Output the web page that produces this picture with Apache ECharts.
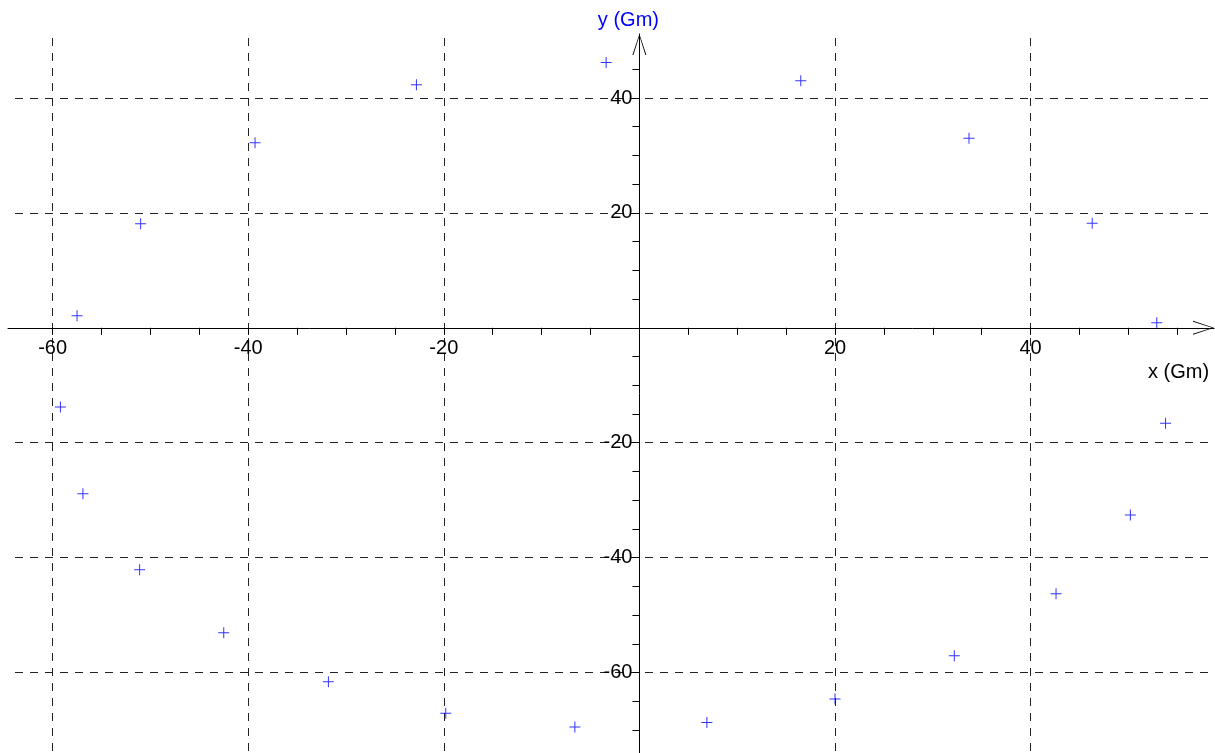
<!DOCTYPE html>
<html>
<head>
<meta charset="utf-8">
<script src="https://cdn.jsdelivr.net/npm/echarts@6/dist/echarts.min.js"></script>
<style>
  html, body { margin: 0; padding: 0; background: #ffffff; }
  #chart { width: 1215px; height: 753px; }
</style>
</head>
<body>
<div id="chart"></div>
<script>
// Orbit samples, positions in Gm
const xValues = [-57.5, -51.0, -39.3, -22.8, -3.4, 16.5, 33.7, 46.3, 52.9, 53.8, 50.2, 42.6,
                 32.2, 20.0, 6.9, -6.6, -19.8, -31.8, -42.5, -51.1, -56.9, -59.2];
const yValues = [2.1, 18.1, 32.2, 42.3, 46.2, 43.0, 33.0, 18.2, 0.9, -16.6, -32.6, -46.3,
                 -57.1, -64.6, -68.7, -69.5, -67.1, -61.6, -53.1, -42.1, -28.9, -13.8];

// Labelled tick values on each axis
const xLabelValues = [-60, -40, -20, 20, 40];
const yLabelValues = [-60, -40, -20, 20, 40];

const xName = 'x (Gm)';
const yName = 'y (Gm)';

// ---- layout: pixel position of the origin and pixels per unit ----
const W = 1215, H = 753;
const OX = 639.4, KX = 9.78;   // x: px of 0, px per Gm
const OY = 327.8, KY = 5.745;  // y: px of 0, px per Gm

// build a grid box from data ranges
function box(xmin, xmax, ymin, ymax) {
  return {
    left: OX + xmin * KX,
    right: W - (OX + xmax * KX),
    top: OY - ymax * KY,
    bottom: H - (OY - ymin * KY),
    containLabel: false
  };
}
// the inverse: data range of a pixel box
function range(l, r, t, b) {
  return {
    xmin: (l - OX) / KX, xmax: (W - r - OX) / KX,
    ymin: (OY - (H - b)) / KY, ymax: (OY - t) / KY
  };
}

const FONT = 'Liberation Sans, Arial, sans-serif';

// tick spans (whole multiples of the 5 Gm tick step)
const xTickSpan = [-60, 55];
const yTickSpan = [-70, 45];
// grid 0: x ticks, its bottom edge sits on y = 0
// grid 1: y ticks, its left edge sits on x = 0
// grid 2: dashed reference lines
const gridLinePx = { l: 15, r: 5, t: 38, b: 0 };
const lineRange = range(gridLinePx.l, gridLinePx.r, gridLinePx.t, gridLinePx.b);
// grid 3: the two axis lines with arrow heads
const axisPx = { l: 8, r: 1, t: 34, b: 0 };
const axisRange = range(axisPx.l, axisPx.r, axisPx.t, axisPx.b);

const openArrow = 'path://M7,0 L14,21 L13,21 L7,2 L1,21 L0,21 Z';
const plusMark = 'path://M5,0 L6,0 L6,11 L5,11 Z M0,5 L11,5 L11,6 L0,6 Z';

function labelFmt(list) {
  return function (v) {
    const r = Math.round(v);
    return (Math.abs(v - r) < 1e-6 && list.indexOf(r) >= 0) ? String(r) : '';
  };
}

const hidden = {
  axisLine: { show: false, onZero: false }, axisTick: { show: false },
  axisLabel: { show: false }, splitLine: { show: false }
};

const tickStyle = { show: true, length: 7, lineStyle: { color: '#000', width: 1 } };

const option = {
  backgroundColor: '#ffffff',
  animation: false,
  grid: [
    box(xTickSpan[0], xTickSpan[1], 0, 10),
    box(0, 10, yTickSpan[0], yTickSpan[1]),
    { left: gridLinePx.l, right: gridLinePx.r, top: gridLinePx.t, bottom: gridLinePx.b, containLabel: false },
    { left: axisPx.l, right: axisPx.r, top: axisPx.t, bottom: axisPx.b, containLabel: false }
  ],
  xAxis: [
    Object.assign({
      gridIndex: 0, type: 'value', position: 'bottom', min: xTickSpan[0], max: xTickSpan[1], interval: 5
    }, hidden, {
      axisTick: tickStyle,
      axisLabel: {
        show: true, margin: 11, color: '#000', fontFamily: FONT, fontSize: 20,
        showMinLabel: true, showMaxLabel: true, hideOverlap: false,
        formatter: labelFmt(xLabelValues)
      }
    }),
    Object.assign({ gridIndex: 1, type: 'value', min: 0, max: 10 }, hidden),
    Object.assign({
      gridIndex: 2, type: 'value', min: lineRange.xmin, max: lineRange.xmax, splitNumber: 6
    }, hidden, {
      splitLine: { show: true, showMinLine: false, showMaxLine: false,
                   lineStyle: { color: '#222', width: 1, type: [8, 7] } }
    }),
    Object.assign({
      gridIndex: 3, type: 'value', min: axisRange.xmin, max: axisRange.xmax
    }, hidden, {
      axisLine: { show: true, onZero: true, symbol: ['none', openArrow],
                  symbolSize: [14, 21], symbolOffset: [0, -10.5],
                  lineStyle: { color: '#000', width: 1 } },
      name: '\n' + xName, nameLocation: 'end', nameGap: -66,
      nameTextStyle: { color: '#000', fontFamily: FONT, fontSize: 20,
                       verticalAlign: 'top', lineHeight: 30 }
    })
  ],
  yAxis: [
    Object.assign({ gridIndex: 0, type: 'value', min: 0, max: 10 }, hidden),
    Object.assign({
      gridIndex: 1, type: 'value', position: 'left', min: yTickSpan[0], max: yTickSpan[1], interval: 5
    }, hidden, {
      axisTick: tickStyle,
      axisLabel: {
        show: true, margin: 7, color: '#000', fontFamily: FONT, fontSize: 20,
        padding: [0, 0, 6, 0],
        showMinLabel: true, showMaxLabel: true, hideOverlap: false,
        formatter: labelFmt(yLabelValues)
      }
    }),
    Object.assign({
      gridIndex: 2, type: 'value', min: lineRange.ymin, max: lineRange.ymax, splitNumber: 6
    }, hidden, {
      splitLine: { show: true, showMinLine: false, showMaxLine: false,
                   lineStyle: { color: '#222', width: 1, type: [8, 7] } }
    }),
    Object.assign({
      gridIndex: 3, type: 'value', min: axisRange.ymin, max: axisRange.ymax
    }, hidden, {
      axisLine: { show: true, onZero: true, symbol: ['none', openArrow],
                  symbolSize: [14, 21], symbolOffset: [0, -10.5],
                  lineStyle: { color: '#000', width: 1 } },
      name: yName, nameLocation: 'end', nameGap: 4,
      nameTextStyle: { color: '#0000ff', fontFamily: FONT, fontSize: 20, padding: [0, 22, 0, 0] }
    })
  ],
  series: [{
    type: 'scatter',
    xAxisIndex: 2, yAxisIndex: 2,
    clip: false,
    symbol: plusMark,
    symbolSize: 11,
    itemStyle: { color: '#0000ff' },
    z: 5,
    data: xValues.map((x, i) => [x, yValues[i]])
  }]
};

const chart = echarts.init(document.getElementById('chart'), null, { renderer: 'canvas' });
chart.setOption(option);
</script>
</body>
</html>
